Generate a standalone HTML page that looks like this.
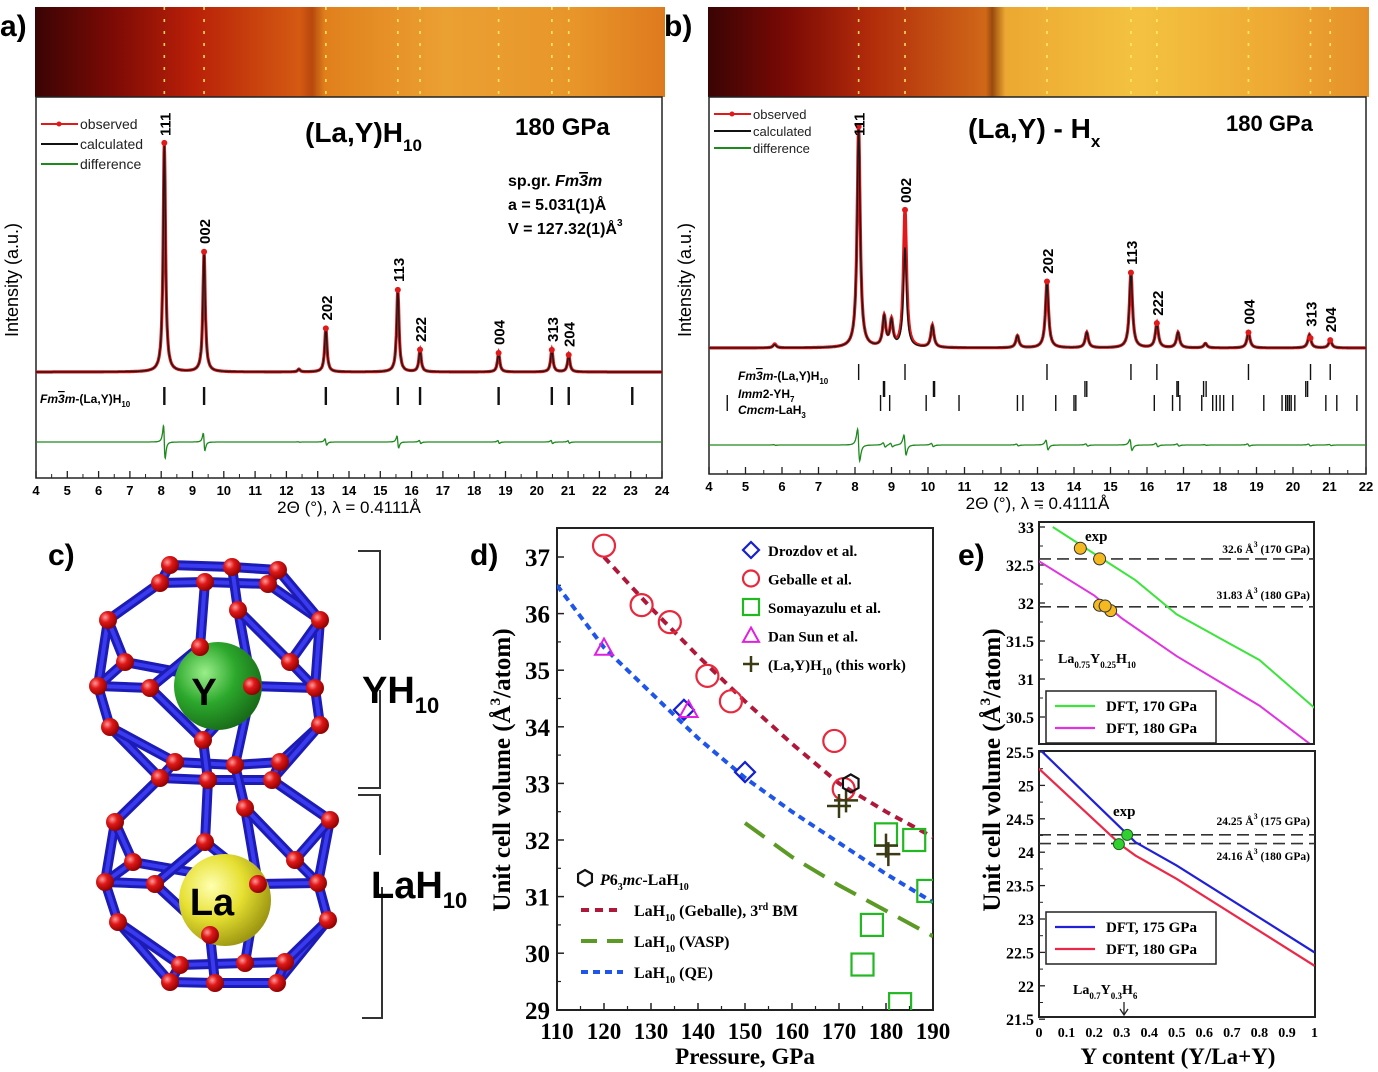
<!DOCTYPE html>
<html><head><meta charset="utf-8"><style>
html,body{margin:0;padding:0;background:#fff;}
svg{display:block;}
.sa{font-family:"Liberation Sans",sans-serif;}
.se{font-family:"Liberation Serif",serif;font-weight:bold;}
</style></head><body>
<svg id="fig" width="1378" height="1072" viewBox="0 0 1378 1072" xmlns="http://www.w3.org/2000/svg">
<defs>
<linearGradient id="stripA" x1="0" x2="1" y1="0" y2="0">
<stop offset="0" stop-color="#3a0404"/><stop offset="0.12" stop-color="#7a0a05"/><stop offset="0.25" stop-color="#b82008"/><stop offset="0.42" stop-color="#d45a12"/><stop offset="0.44" stop-color="#b8480e"/><stop offset="0.46" stop-color="#e0801c"/><stop offset="0.65" stop-color="#eba032"/><stop offset="0.85" stop-color="#e8962a"/><stop offset="1" stop-color="#de7a1e"/></linearGradient>
<linearGradient id="stripB" x1="0" x2="1" y1="0" y2="0">
<stop offset="0" stop-color="#3a0404"/><stop offset="0.12" stop-color="#7a0a05"/><stop offset="0.24" stop-color="#b02a0a"/><stop offset="0.42" stop-color="#d06818"/><stop offset="0.43" stop-color="#9a4a0e"/><stop offset="0.45" stop-color="#eca832"/><stop offset="0.65" stop-color="#f4c240"/><stop offset="0.85" stop-color="#eeaa34"/><stop offset="1" stop-color="#e4902a"/></linearGradient>
<radialGradient id="gRed" cx="0.35" cy="0.35" r="0.7"><stop offset="0" stop-color="#ff9a9a"/><stop offset="0.4" stop-color="#e01818"/><stop offset="1" stop-color="#8a0000"/></radialGradient>
<radialGradient id="gGreen" cx="0.35" cy="0.35" r="0.7"><stop offset="0" stop-color="#9aee8a"/><stop offset="0.5" stop-color="#2ca82c"/><stop offset="1" stop-color="#186a18"/></radialGradient>
<radialGradient id="gYel" cx="0.35" cy="0.35" r="0.7"><stop offset="0" stop-color="#ffffb0"/><stop offset="0.5" stop-color="#e6e032"/><stop offset="1" stop-color="#9a9410"/></radialGradient>
<clipPath id="clipD"><rect x="557" y="528" width="376" height="482"/></clipPath>
<clipPath id="clipE1"><rect x="1039" y="522" width="275" height="221"/></clipPath>
<clipPath id="clipE2"><rect x="1039" y="751" width="276" height="266"/></clipPath>
</defs>
<g id="root"></g>
</svg>
<script>
// ---------- Panel a data ----------
const peakPosA = [8.1, 9.37, 12.4, 13.26, 15.56, 16.27, 18.78, 20.48, 21.02];
const peakHA   = [100, 52.4, 1.2, 19, 35.8, 9.6, 8.3, 9.6, 7.4];
const tickPosA = [8.1, 9.37, 13.26, 15.56, 16.27, 18.78, 20.48, 21.02, 23.05];
const hklA = ["111","002","202","113","222","004","313","204"];
const hklPosA = [8.1, 9.37, 13.26, 15.56, 16.27, 18.78, 20.48, 21.02];
const hklHA = [100, 52.4, 19, 35.8, 9.6, 8.3, 9.6, 7.4];
const xTicksA = [4,5,6,7,8,9,10,11,12,13,14,15,16,17,18,19,20,21,22,23,24];
// ---------- Panel b data ----------
const peakPosB = [5.8, 8.1, 8.8, 9.0, 9.37, 10.12, 12.45, 13.26, 14.35, 15.56, 16.27, 16.85, 17.6, 18.78, 20.45, 21.02];
const peakHB   = [1.5, 100, 13.5, 11.5, 45, 10, 5.5, 30, 7, 34, 11, 7, 2, 7, 6, 3.5];
const peakHBobs= [1.8, 100, 13.5, 11.5, 62, 10, 5.5, 30, 7, 34, 11, 7, 2, 7, 6, 3.5];
const tickFmB = [8.1, 9.37, 13.26, 15.56, 16.27, 18.78, 20.48, 21.02];
const tickImmB = [8.78, 8.81, 10.15, 10.18, 14.3, 14.35, 16.82, 16.86, 17.55, 17.62, 20.35, 20.4];
const tickCmcmB = [4.5, 8.7, 8.95, 9.95, 10.85, 12.45, 12.6, 13.5, 14.0, 14.05, 16.2, 16.7, 16.9, 17.5, 17.8, 17.9, 18.0, 18.1, 18.35, 19.2, 19.7, 19.8, 19.85, 19.9, 19.95, 20.05, 20.9, 21.2, 21.75];
const hklB = ["111","002","202","113","222","004","313","204"];
const hklPosB = [8.1, 9.37, 13.26, 15.56, 16.27, 18.78, 20.48, 21.02];
const hklHB = [100, 62, 30, 34, 11, 7, 6, 3.5];
const xTicksB = [4,5,6,7,8,9,10,11,12,13,14,15,16,17,18,19,20,21,22];
// ---------- Panel d data ----------
const drozP = [137, 150], drozV = [34.3, 33.2];
const gebP = [120, 128, 134, 142, 147, 169, 171], gebV = [37.2, 36.15, 35.85, 34.9, 34.45, 33.75, 32.9];
const somP = [180, 186, 189, 177, 175, 183], somV = [32.1, 32.0, 31.1, 30.5, 29.8, 29.1];
const sunP = [120, 138], sunV = [35.4, 34.3];
const workP = [170, 171.5, 180, 180.5], workV = [32.6, 32.7, 31.9, 31.75];
const hexP = [172.5], hexV = [33.0];
const fitGebP = [120, 130, 140, 150, 160, 170, 180, 190], fitGebV = [37.0, 36.1, 35.25, 34.45, 33.7, 33.0, 32.5, 32.05];
const fitQEP = [110, 120, 130, 140, 150, 160, 170, 180, 190], fitQEV = [36.5, 35.4, 34.6, 33.8, 33.1, 32.5, 31.95, 31.4, 30.9];
const fitVaspP = [150, 160, 170, 180, 190], fitVaspV = [32.3, 31.7, 31.2, 30.75, 30.3];
const xTicksD = [110,120,130,140,150,160,170,180,190];
const yTicksD = [29,30,31,32,33,34,35,36,37];
// ---------- Panel e data ----------
const e1GreenX = [0.05, 0.2, 0.35, 0.5, 0.65, 0.8, 1.0], e1GreenV = [33.0, 32.65, 32.3, 31.85, 31.55, 31.25, 30.62];
const e1MagX = [0, 0.2, 0.3, 0.5, 0.8, 1.0], e1MagV = [32.55, 32.1, 31.8, 31.3, 30.65, 30.1];
const e1ExpX = [0.15, 0.22, 0.22, 0.26, 0.24], e1ExpV = [32.72, 32.58, 31.97, 31.9, 31.96];
const e1Dash = [32.58, 31.95];
const e2BlueX = [0, 0.3, 0.35, 0.5, 1.0], e2BlueV = [25.55, 24.35, 24.15, 23.8, 22.5];
const e2RedX = [0, 0.3, 0.35, 0.5, 1.0], e2RedV = [25.25, 24.1, 23.95, 23.6, 22.3];
const e2ExpX = [0.32, 0.29], e2ExpV = [24.26, 24.12];
const e2Dash = [24.26, 24.13];
const yTicksE1 = [30.5, 31, 31.5, 32, 32.5, 33];
const yTicksE2 = [21.5, 22, 22.5, 23, 23.5, 24, 24.5, 25, 25.5];
const xTicksE = [0,0.1,0.2,0.3,0.4,0.5,0.6,0.7,0.8,0.9,1];

const NS = "http://www.w3.org/2000/svg";
const root = document.getElementById('root');
function mk(tag, attrs, parent, txt) {
  const e = document.createElementNS(NS, tag);
  for (const k in attrs) e.setAttribute(k, attrs[k]);
  if (txt !== undefined) e.textContent = txt;
  (parent || root).appendChild(e);
  return e;
}
function grp(name, parent) {
  const g = document.createElementNS(NS, 'g');
  
  
  (parent || root).appendChild(g);
  return g;
}

function powder(cfg) {
  const G = grp(cfg.name);
  const sx = v => cfg.x0 + (v - cfg.xmin) * (cfg.x1 - cfg.x0) / (cfg.xmax - cfg.xmin);
  const sy = h => cfg.base - h * cfg.scale;
  const st = mk('rect', {x: cfg.x0 - 1, y: 7, width: cfg.x1 - cfg.x0 + 4, height: 90, fill: cfg.strip}, G);
  
  
  cfg.hklPos.forEach((p, i) => {
    const l = mk('line', {x1: sx(p), x2: sx(p), y1: 7, y2: 97, stroke: '#fff36a', 'stroke-width': 1.6, 'stroke-dasharray': '3 9', opacity: 0.85}, G);
    
    
  });
  const fr = mk('rect', {x: cfg.x0, y: 97, width: cfg.x1 - cfg.x0, height: cfg.fb - 97, fill: 'none', stroke: '#222', 'stroke-width': 1.5}, G);
  
  
  function prof(heights, x) {
    let s = 0;
    for (let i = 0; i < cfg.pos.length; i++) { const d = (x - cfg.pos[i]) / cfg.w; s += heights[i] / (1 + d * d); }
    return s;
  }
  let dObs = '', dCalc = '', dDiff = '';
  for (let x = cfg.xmin; x <= cfg.xmax + 1e-9; x += 0.01) {
    const c = prof(cfg.h, x), o = prof(cfg.hobs, x);
    dCalc += (dCalc ? 'L' : 'M') + sx(x).toFixed(1) + ',' + sy(c).toFixed(1);
    dObs += (dObs ? 'L' : 'M') + sx(x).toFixed(1) + ',' + sy(o).toFixed(1);
    let df = 0;
    for (let i = 0; i < cfg.pos.length; i++) {
      const d = (x - cfg.pos[i]) / cfg.w;
      df += -cfg.hobs[i] * 0.22 * d / ((1 + d * d) * (1 + d * d));
    }
    dDiff += (dDiff ? 'L' : 'M') + sx(x).toFixed(1) + ',' + (cfg.diffBase - df * cfg.scale).toFixed(1);
  }
  const po = mk('path', {d: dObs, fill: 'none', stroke: '#e0191b', 'stroke-width': 3.2}, G);
  
  
  const pc = mk('path', {d: dCalc, fill: 'none', stroke: '#1a1a1a', 'stroke-width': 1.4}, G);
  
  
  const pd = mk('path', {d: dDiff, fill: 'none', stroke: '#1d8a1d', 'stroke-width': 1.3}, G);
  
  
  cfg.hklPos.forEach((p, i) => {
    const c = mk('circle', {cx: sx(p), cy: sy(prof(cfg.hobs, p)), r: 3, fill: '#e0191b'}, G);
    
    
  });
  cfg.hkl.forEach((t, i) => {
    const x = sx(cfg.hklPos[i]) + 6, y = Math.max(sy(cfg.hklH[i]) - 8, 136);
    const tx = mk('text', {x: x, y: y, transform: `rotate(-90 ${x} ${y})`, 'font-size': 15, 'font-weight': 'bold', class: 'sa'}, G, t);
    
    
  });
  cfg.tickRows.forEach(row => {
    row.pos.forEach(p => {
      const l = mk('line', {x1: sx(p), x2: sx(p), y1: row.y0, y2: row.y1, stroke: '#111', 'stroke-width': row.sw}, G);
      
      
    });
  });
  cfg.xt.forEach(v => {
    const l = mk('line', {x1: sx(v), x2: sx(v), y1: cfg.fb, y2: cfg.fb - 7, stroke: '#222', 'stroke-width': 1.3}, G);
    
    
    if (v < cfg.xmax) {
      const m = mk('line', {x1: sx(v + 0.5), x2: sx(v + 0.5), y1: cfg.fb, y2: cfg.fb - 4, stroke: '#222', 'stroke-width': 1}, G);
      
      
    }
    const t = mk('text', {x: sx(v), y: cfg.fb + 17, 'text-anchor': 'middle', 'font-size': 13, 'font-weight': 'bold', class: 'sa'}, G, String(v));
    
    
  });
  const xl = mk('text', {x: (cfg.x0 + cfg.x1) / 2, y: cfg.fb + 35, 'text-anchor': 'middle', 'font-size': 17, class: 'sa'}, G, '2Θ (°), λ = 0.4111Å');
  
  
  const yx = cfg.x0 - 18, yy = 280;
  const yl = mk('text', {x: yx, y: yy, transform: `rotate(-90 ${yx} ${yy})`, 'text-anchor': 'middle', 'font-size': 18, class: 'sa'}, G, 'Intensity (a.u.)');
  
  
  const lg = grp('legend', G);
  [['observed', '#e0191b'], ['calculated', '#111'], ['difference', '#1d8a1d']].forEach((e, i) => {
    const y = cfg.legY + i * cfg.legDy;
    mk('line', {x1: cfg.x0 + 5, x2: cfg.x0 + 42, y1: y, y2: y, stroke: e[1], 'stroke-width': 2}, lg);
    if (i === 0) mk('circle', {cx: cfg.x0 + 23, cy: y, r: 2.5, fill: e[1]}, lg);
    mk('text', {x: cfg.x0 + 44, y: y + 5, 'font-size': cfg.legFs, class: 'sa', fill: '#222'}, lg, e[0]);
  });
  return {sx, sy};
}

const A = powder({name: 'panel-a', x0: 36, x1: 662, xmin: 4, xmax: 24, base: 372, scale: 2.29, fb: 478,
  strip: 'url(#stripA)', pos: peakPosA, h: peakHA, hobs: peakHA, w: 0.045, diffBase: 442,
  hkl: hklA, hklPos: hklPosA, hklH: hklHA,
  tickRows: [{pos: tickPosA, y0: 387, y1: 405, sw: 2.4}], xt: xTicksA, legY: 124, legDy: 20, legFs: 14});
const B = powder({name: 'panel-b', x0: 709, x1: 1366, xmin: 4, xmax: 22, base: 348, scale: 2.21, fb: 474,
  strip: 'url(#stripB)', pos: peakPosB, h: peakHB, hobs: peakHBobs, w: 0.05, diffBase: 445,
  hkl: hklB, hklPos: hklPosB, hklH: hklHB,
  tickRows: [{pos: tickFmB, y0: 364, y1: 380, sw: 1.4}, {pos: tickImmB, y0: 381, y1: 397, sw: 1.4}, {pos: tickCmcmB, y0: 395, y1: 411, sw: 1.4}],
  xt: xTicksB, legY: 114, legDy: 17, legFs: 13});

function T(x, y, s, fs, extra, name, parent) {
  const a = Object.assign({x: x, y: y, 'font-size': fs}, extra || {});
  const t = mk('text', a, parent);
  t.innerHTML = s;
  
  
  return t;
}
T(0, 36, 'a)', 30, {class: 'sa', 'font-weight': 'bold'}, 'panel-label-a');
T(664, 36, 'b)', 30, {class: 'sa', 'font-weight': 'bold'}, 'panel-label-b');
T(305, 142, '(La,Y)H<tspan font-size="17" dy="9">10</tspan>', 28, {class: 'sa', 'font-weight': 'bold'}, 'title-a');
T(515, 135, '180 GPa', 24, {class: 'sa', 'font-weight': 'bold'}, 'pressure-a');
T(508, 186, 'sp.gr. <tspan font-style="italic">Fm<tspan text-decoration="overline">3</tspan>m</tspan>', 16, {class: 'sa', 'font-weight': 'bold'}, 'space-group');
T(508, 210, 'a = 5.031(1)Å', 16, {class: 'sa', 'font-weight': 'bold'}, 'lattice-a');
T(508, 234, 'V = 127.32(1)Å<tspan font-size="10" dy="-8">3</tspan>', 16, {class: 'sa', 'font-weight': 'bold'}, 'cell-volume');
T(40, 403, '<tspan font-style="italic">Fm<tspan text-decoration="overline">3</tspan>m</tspan>-(La,Y)H<tspan font-size="8" dy="4">10</tspan>', 12, {class: 'sa', 'font-weight': 'bold'}, 'phase-label-a');
T(968, 138, '(La,Y) - H<tspan font-size="17" dy="9">x</tspan>', 28, {class: 'sa', 'font-weight': 'bold'}, 'title-b');
T(1226, 131, '180 GPa', 22, {class: 'sa', 'font-weight': 'bold'}, 'pressure-b');
T(738, 380, '<tspan font-style="italic">Fm<tspan text-decoration="overline">3</tspan>m</tspan>-(La,Y)H<tspan font-size="8" dy="4">10</tspan>', 12, {class: 'sa', 'font-weight': 'bold'}, 'phase-label-fm3m');
T(738, 398, '<tspan font-style="italic">Imm</tspan>2-YH<tspan font-size="8" dy="4">7</tspan>', 12, {class: 'sa', 'font-weight': 'bold'}, 'phase-label-imm2');
T(738, 414, '<tspan font-style="italic">Cmcm</tspan>-LaH<tspan font-size="8" dy="4">3</tspan>', 12, {class: 'sa', 'font-weight': 'bold'}, 'phase-label-cmcm');

// ====== Panel c ======
const C = grp('panel-c');
T(48, 565, 'c)', 30, {class: 'sa', 'font-weight': 'bold'}, 'panel-label-c', C);
const nodes = [[170,565],[232,567],[278,570],[160,583],[205,582],[268,584],[108,620],[320,620],[238,610],
 [125,662],[290,662],[98,686],[150,688],[252,686],[315,688],[200,647],[110,727],[320,725],[203,740],
 [175,762],[235,765],[280,762],[160,778],[208,780],[272,780],
 [115,822],[330,820],[245,808],[133,862],[295,860],[105,882],[155,884],[258,884],[318,883],[205,842],
 [118,922],[328,920],[210,935],[180,965],[245,963],[285,962],[170,982],[215,983],[277,983]];
const edges = [[0,1],[1,2],[3,4],[4,5],[0,3],[2,5],[3,6],[5,7],[2,7],[6,11],[7,14],[6,9],[7,10],[9,13],[10,14],[11,12],[13,14],[12,15],[15,13],[12,18],[18,13],[4,15],[1,8],[8,13],[8,10],[9,11],
 [11,16],[14,17],[16,22],[17,21],[16,19],[19,20],[20,21],[22,23],[23,24],[17,24],[18,23],[19,22],[21,24],[20,27],[13,20],
 [22,25],[24,26],[23,34],[25,30],[26,33],[25,28],[26,29],[28,32],[29,33],[30,31],[32,33],[34,31],[27,32],[31,37],[37,32],[27,29],[30,35],[33,36],[35,41],[35,38],[36,43],[36,40],[38,39],[39,40],[41,42],[42,43],[37,42],[39,32],[38,41],[40,43],[28,30]];
const gs = grp('cage-bonds', C);
function bond(e) {
  const a = nodes[e[0]], b = nodes[e[1]];
  mk('line', {x1: a[0], y1: a[1], x2: b[0], y2: b[1], stroke: '#1c1cb4', 'stroke-width': 10, 'stroke-linecap': 'round'}, gs);
  mk('line', {x1: a[0], y1: a[1], x2: b[0], y2: b[1], stroke: '#3a3af0', 'stroke-width': 4}, gs);
}
edges.forEach(bond);
const ys = mk('circle', {cx: 218, cy: 686, r: 44, fill: 'url(#gGreen)'}, C);


const las = mk('circle', {cx: 225, cy: 900, r: 46, fill: 'url(#gYel)'}, C);


[[12,15],[15,13],[12,18],[18,13],[31,34],[34,32],[31,37],[37,32]].forEach(bond);
T(204, 705, 'Y', 38, {class: 'sa', 'font-weight': 'bold', 'text-anchor': 'middle'}, 'y-atom-label', C);
T(212, 915, 'La', 38, {class: 'sa', 'font-weight': 'bold', 'text-anchor': 'middle'}, 'la-atom-label', C);
const ga = grp('h-atoms', C);
nodes.forEach(n => mk('circle', {cx: n[0], cy: n[1], r: 9, fill: 'url(#gRed)'}, ga));
const br = grp('brackets', C);
['M358 551H380V640', 'M380 690V788H358', 'M358 795H380V855', 'M382 887V1018H362'].forEach(d =>
  mk('path', {d: d, fill: 'none', stroke: '#333', 'stroke-width': 2}, br));
T(362, 703, 'YH<tspan font-size="22" dy="10">10</tspan>', 38, {class: 'sa', 'font-weight': 'bold'}, 'yh10-label', C);
T(371, 898, 'LaH<tspan font-size="22" dy="10">10</tspan>', 38, {class: 'sa', 'font-weight': 'bold'}, 'lah10-label', C);

// ====== Panel d ======
const D = grp('panel-d');
const dx = p => 557 + (p - 110) * 4.7;
const dy = v => 557 + (37 - v) * 56.6;
T(470, 565, 'd)', 30, {class: 'sa', 'font-weight': 'bold'}, 'panel-label-d', D);
const dfr = mk('rect', {x: 557, y: 528, width: 376, height: 482, fill: 'none', stroke: '#222', 'stroke-width': 2}, D);


xTicksD.forEach(v => {
  mk('line', {x1: dx(v), x2: dx(v), y1: 1010, y2: 1003, stroke: '#222', 'stroke-width': 1.5}, D);
  if (v < 190) mk('line', {x1: dx(v + 5), x2: dx(v + 5), y1: 1010, y2: 1006, stroke: '#222', 'stroke-width': 1.2}, D);
  T(dx(v), 1039, String(v), 23, {class: 'se', 'text-anchor': 'middle'}, 'x-tick-label', D);
});
yTicksD.forEach(v => {
  mk('line', {x1: 557, x2: 564, y1: dy(v), y2: dy(v), stroke: '#222', 'stroke-width': 1.5}, D);
  if (v < 37) mk('line', {x1: 557, x2: 561, y1: dy(v + 0.5), y2: dy(v + 0.5), stroke: '#222', 'stroke-width': 1.2}, D);
  T(550, dy(v) + 9, String(v), 25, {class: 'se', 'text-anchor': 'end'}, 'y-tick-label', D);
});
T(745, 1064, 'Pressure, GPa', 23, {class: 'se', 'text-anchor': 'middle'}, 'x-axis-title', D);
T(510, 770, 'Unit cell volume (Å<tspan font-size="15" dy="-10">3</tspan><tspan dy="10">/atom)</tspan>', 25, {class: 'se', 'text-anchor': 'middle', transform: 'rotate(-90 510 770)'}, 'y-axis-title', D);
const dpl = grp('plot-area', D); dpl.setAttribute('clip-path', 'url(#clipD)');
function pl(P, V, col, dash, w, name, fx, fy, parent) {
  const p = mk('polyline', {points: P.map((x, i) => fx(x) + ',' + fy(V[i])).join(' '), fill: 'none', stroke: col, 'stroke-width': w, 'stroke-dasharray': dash}, parent);
  
  
}
pl(fitGebP, fitGebV, '#b0183a', '8 6', 4, 'geballe-fit-line', dx, dy, dpl);
pl(fitQEP, fitQEV, '#1f55e8', '7 5', 4, 'qe-fit-line', dx, dy, dpl);
pl(fitVaspP, fitVaspV, '#5c9a26', '24 12', 4, 'vasp-fit-line', dx, dy, dpl);
function marker(type, x, y, s, col, parent, name) {
  let e;
  if (type === 'circle') e = mk('circle', {cx: x, cy: y, r: s, fill: 'none', stroke: col, 'stroke-width': 2.2}, parent);
  else if (type === 'square') e = mk('rect', {x: x - s, y: y - s, width: 2 * s, height: 2 * s, fill: 'none', stroke: col, 'stroke-width': 2.2}, parent);
  else if (type === 'diamond') e = mk('polygon', {points: `${x},${y - s} ${x + s},${y} ${x},${y + s} ${x - s},${y}`, fill: 'none', stroke: col, 'stroke-width': 2.2}, parent);
  else if (type === 'tri') e = mk('polygon', {points: `${x},${y - s} ${x + s},${y + s * 0.8} ${x - s},${y + s * 0.8}`, fill: 'none', stroke: col, 'stroke-width': 2}, parent);
  else if (type === 'plus') e = mk('path', {d: `M${x - s} ${y}H${x + s}M${x} ${y - s}V${y + s}`, stroke: col, 'stroke-width': 2.5}, parent);
  else if (type === 'hex') { const pts = []; for (let k = 0; k < 6; k++) { const a = Math.PI / 6 + k * Math.PI / 3; pts.push((x + s * Math.cos(a)) + ',' + (y + s * Math.sin(a))); }
    e = mk('polygon', {points: pts.join(' '), fill: 'none', stroke: col, 'stroke-width': 2.2}, parent); }
  
  
}
drozP.forEach((p, i) => marker('diamond', dx(p), dy(drozV[i]), 10, '#1420d0', dpl, 'drozdov-point'));
gebP.forEach((p, i) => marker('circle', dx(p), dy(gebV[i]), 11, '#e8283c', dpl, 'geballe-point'));
somP.forEach((p, i) => marker('square', dx(p), dy(somV[i]), 11, '#22b822', dpl, 'somayazulu-point'));
sunP.forEach((p, i) => marker('tri', dx(p), dy(sunV[i]), 9, '#e020e0', dpl, 'dan-sun-point'));
workP.forEach((p, i) => marker('plus', dx(p), dy(workV[i]), 12, '#3a3a14', dpl, 'this-work-point'));
hexP.forEach((p, i) => marker('hex', dx(p), dy(hexV[i]), 9, '#111', dpl, 'p63mc-point'));
const lgD = grp('legend-top', D);
[['diamond', '#1420d0', 'Drozdov et al.'], ['circle', '#e8283c', 'Geballe et al.'], ['square', '#22b822', 'Somayazulu et al.'], ['tri', '#e020e0', 'Dan Sun et al.'], ['plus', '#3a3a14', '(La,Y)H<tspan font-size="10" dy="5">10</tspan><tspan dy="-5"> (this work)</tspan>']].forEach((e, i) => {
  const y = 550 + i * 28.5;
  marker(e[0], 751, y, 8, e[1], lgD, 'legend-marker');
  T(768, y + 6, e[2], 15, {class: 'se'}, 'legend-entry', lgD);
});
const lgD2 = grp('legend-bottom', D);
marker('hex', 585, 878, 8, '#111', lgD2, 'legend-marker');
T(600, 885, '<tspan font-style="italic">P</tspan>6<tspan font-size="10" dy="5">3</tspan><tspan dy="-5" font-style="italic">mc</tspan>-LaH<tspan font-size="10" dy="5">10</tspan>', 16, {class: 'se'}, 'legend-entry', lgD2);
[['#b0183a', '8 6', 'LaH<tspan font-size="10" dy="5">10</tspan><tspan dy="-5"> (Geballe), 3</tspan><tspan font-size="10" dy="-6">rd</tspan><tspan dy="6"> BM</tspan>'], ['#5c9a26', '16 10', 'LaH<tspan font-size="10" dy="5">10</tspan><tspan dy="-5"> (VASP)</tspan>'], ['#1f55e8', '7 5', 'LaH<tspan font-size="10" dy="5">10</tspan><tspan dy="-5"> (QE)</tspan>']].forEach((e, i) => {
  const y = 910 + i * 31;
  mk('line', {x1: 581, x2: 623, y1: y, y2: y, stroke: e[0], 'stroke-width': 4, 'stroke-dasharray': e[1]}, lgD2);
  T(634, y + 6, e[2], 16, {class: 'se'}, 'legend-entry', lgD2);
});

// ====== Panel e ======
const E = grp('panel-e');
const ex = v => 1039 + v * 275.5;
const ey1 = v => 527 + (33 - v) * 76;
const ey2 = v => 752 + (25.5 - v) * 66.8;
T(958, 565, 'e)', 30, {class: 'sa', 'font-weight': 'bold'}, 'panel-label-e', E);
mk('rect', {x: 1039, y: 522, width: 275, height: 222, fill: 'none', stroke: '#222', 'stroke-width': 2}, E);
mk('rect', {x: 1039, y: 751, width: 276, height: 266, fill: 'none', stroke: '#222', 'stroke-width': 2}, E);
yTicksE1.forEach(v => { mk('line', {x1: 1039, x2: 1045, y1: ey1(v), y2: ey1(v), stroke: '#222', 'stroke-width': 1.3}, E);
  mk('line', {x1: 1039, x2: 1043, y1: ey1(v + 0.25), y2: ey1(v + 0.25), stroke: '#222'}, E);
  T(1034, ey1(v) + 6, String(v), 16, {class: 'se', 'text-anchor': 'end'}, 'y-tick-label', E); });
yTicksE2.forEach(v => { mk('line', {x1: 1039, x2: 1045, y1: ey2(v), y2: ey2(v), stroke: '#222', 'stroke-width': 1.3}, E);
  if (v > 21.5) mk('line', {x1: 1039, x2: 1043, y1: ey2(v - 0.25), y2: ey2(v - 0.25), stroke: '#222'}, E);
  T(1034, ey2(v) + 6, String(v), 16, {class: 'se', 'text-anchor': 'end'}, 'y-tick-label', E); });
xTicksE.forEach(v => T(ex(v), 1037, String(v), 14, {class: 'se', 'text-anchor': 'middle'}, 'x-tick-label', E));
T(1178, 1064, 'Y content (Y/La+Y)', 23, {class: 'se', 'text-anchor': 'middle'}, 'x-axis-title', E);
T(1000, 770, 'Unit cell volume (Å<tspan font-size="15" dy="-10">3</tspan><tspan dy="10">/atom)</tspan>', 25, {class: 'se', 'text-anchor': 'middle', transform: 'rotate(-90 1000 770)'}, 'y-axis-title', E);
const e1 = grp('top-plot-area', E); e1.setAttribute('clip-path', 'url(#clipE1)');
e1Dash.forEach(v => { const l = mk('line', {x1: 1039, x2: 1314, y1: ey1(v), y2: ey1(v), stroke: '#333', 'stroke-width': 1.6, 'stroke-dasharray': '12 6'}, e1);
    });
pl(e1GreenX, e1GreenV, '#3ee43e', '', 2, 'dft-170-line', ex, ey1, e1);
pl(e1MagX, e1MagV, '#e034e0', '', 2, 'dft-180-line', ex, ey1, e1);
e1ExpX.forEach((x, i) => { const c = mk('circle', {cx: ex(x), cy: ey1(e1ExpV[i]), r: 6, fill: '#f4b820', stroke: '#333', 'stroke-width': 1}, e1);
    });
const e2 = grp('bottom-plot-area', E); e2.setAttribute('clip-path', 'url(#clipE2)');
e2Dash.forEach(v => { const l = mk('line', {x1: 1039, x2: 1315, y1: ey2(v), y2: ey2(v), stroke: '#333', 'stroke-width': 1.6, 'stroke-dasharray': '12 6'}, e2);
    });
pl(e2BlueX, e2BlueV, '#2020d8', '', 2.2, 'dft-175-line', ex, ey2, e2);
pl(e2RedX, e2RedV, '#ec2848', '', 2.2, 'dft-180-line', ex, ey2, e2);
e2ExpX.forEach((x, i) => { const c = mk('circle', {cx: ex(x), cy: ey2(e2ExpV[i]), r: 5.5, fill: '#30d030', stroke: '#1a601a', 'stroke-width': 1}, e2);
    });
T(1085, 541, 'exp', 15, {class: 'se'}, 'exp-label', E);
T(1310, 553, '32.6 Å<tspan font-size="8" dy="-6">3</tspan><tspan dy="6"> (170 GPa)</tspan>', 11.5, {class: 'se', 'text-anchor': 'end'}, 'ref-label', E);
T(1310, 599, '31.83 Å<tspan font-size="8" dy="-6">3</tspan><tspan dy="6"> (180 GPa)</tspan>', 11.5, {class: 'se', 'text-anchor': 'end'}, 'ref-label', E);
T(1058, 663, 'La<tspan font-size="9" dy="5">0.75</tspan><tspan dy="-5">Y</tspan><tspan font-size="9" dy="5">0.25</tspan><tspan dy="-5">H</tspan><tspan font-size="9" dy="5">10</tspan>', 14, {class: 'se'}, 'composition-label', E);
T(1113, 816, 'exp', 15, {class: 'se'}, 'exp-label', E);
T(1310, 825, '24.25 Å<tspan font-size="8" dy="-6">3</tspan><tspan dy="6"> (175 GPa)</tspan>', 11.5, {class: 'se', 'text-anchor': 'end'}, 'ref-label', E);
T(1310, 860, '24.16 Å<tspan font-size="8" dy="-6">3</tspan><tspan dy="6"> (180 GPa)</tspan>', 11.5, {class: 'se', 'text-anchor': 'end'}, 'ref-label', E);
T(1073, 994, 'La<tspan font-size="9" dy="5">0.7</tspan><tspan dy="-5">Y</tspan><tspan font-size="9" dy="5">0.3</tspan><tspan dy="-5">H</tspan><tspan font-size="9" dy="5">6</tspan>', 14, {class: 'se'}, 'composition-label', E);
mk('path', {d: 'M1124 1002V1014M1120 1009L1124 1015L1128 1009', fill: 'none', stroke: '#222', 'stroke-width': 1.3}, E);
function legE(y0, items) {
  const g = grp('legend', E);
  mk('rect', {x: 1046, y: y0, width: 170, height: 52, fill: '#fff', stroke: '#222', 'stroke-width': 1.5}, g);
  items.forEach((it, i) => { const y = y0 + 15 + i * 22;
    mk('line', {x1: 1055, x2: 1095, y1: y, y2: y, stroke: it[0], 'stroke-width': 2.2}, g);
    T(1106, y + 5, it[1], 15, {class: 'se'}, 'legend-entry', g); });
}
legE(691, [['#3ee43e', 'DFT, 170 GPa'], ['#e034e0', 'DFT, 180 GPa']]);
legE(912, [['#2020d8', 'DFT, 175 GPa'], ['#ec2848', 'DFT, 180 GPa']]);
</script>
</body></html>
